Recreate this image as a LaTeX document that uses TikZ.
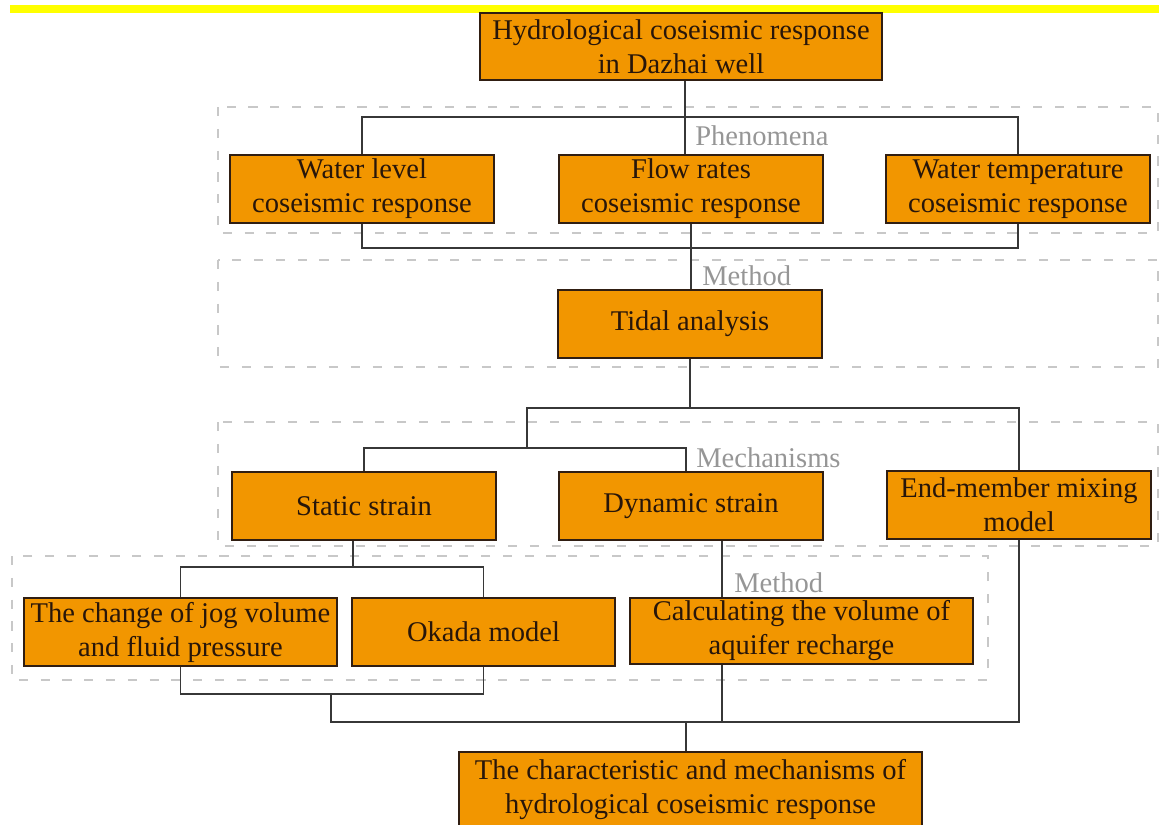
\documentclass[tikz,border=0pt]{standalone}
\usepackage{fontspec}
\setmainfont{Liberation Serif}
\usepackage{tikz}
\usetikzlibrary{positioning,calc}
\definecolor{boxclr}{RGB}{242,150,0}
\definecolor{edgeclr}{RGB}{48,30,18}
\definecolor{txtclr}{RGB}{40,22,10}
\definecolor{lineclr}{RGB}{55,55,55}
\definecolor{dashclr}{RGB}{200,200,200}
\definecolor{tagclr}{RGB}{150,150,150}
\definecolor{barclr}{RGB}{255,255,0}
\tikzset{
    blk/.style={rectangle,draw=edgeclr,line width=1.6pt,fill=boxclr,
                text=txtclr,align=center,inner sep=0pt,
                minimum width=6.6cm,minimum height=1.7cm,
                font=\fontsize{20.3}{24.2}\selectfont},
    link/.style={draw=lineclr,line width=1pt},
    grp/.style={draw=dashclr,line width=1pt,dash pattern=on 6.5pt off 9pt},
    tag/.style={text=tagclr,inner sep=0pt,anchor=base west,
                font=\fontsize{20.3}{24.2}\selectfont},
}

\begin{document}
\begin{tikzpicture}[x=0.025cm,y=-0.025cm]
\useasboundingbox (0,0) rectangle (1159,824);
\fill[barclr] (10,5) rectangle (1159,12.7);

% dashed groups
\draw[grp] (218,107) rectangle (1158,233);
\draw[grp] (218,260) rectangle (1158,367);
\draw[grp] (218,422) rectangle (1158,546);
\draw[grp] (12,556) rectangle (988,680);

% boxes
\node[blk,minimum width=10.05cm,minimum height=1.675cm] (top) at (681,46.5)
  {Hydrological coseismic response\\in Dazhai well};
\node[blk] (wl) at (362,189) {Water level\\coseismic response};
\node[blk] (fr) at (691,189) {Flow rates\\coseismic response};
\node[blk] (wt) at (1018,189) {Water temperature\\coseismic response};
\node[blk] (tid) at (690,324) {Tidal analysis};
\node[blk] (st) at (364,506) {Static strain};
\node[blk] (dyn) at (691,506) {Dynamic strain};
\node[blk] (em) at (1019,505) {End-member mixing\\model};
\node[blk,minimum width=7.825cm] (jog) at (180.5,632)
  {The change of jog volume\\and fluid pressure};
\node[blk,minimum width=6.575cm] (ok) at (483.5,632) {Okada model};
\node[blk,minimum width=8.575cm,minimum height=1.65cm] (calc) at (801.5,631)
  {Calculating the volume of\\aquifer recharge};
\node[blk,minimum width=11.575cm,minimum height=1.9cm] (fin) at (690.5,790)
  {The characteristic and mechanisms of\\hydrological coseismic response};

% group labels
\node[tag] (lphe) at (695,145) {Phenomena};
\node[tag] (lme1) at (702,285) {Method};
\node[tag] (lmec) at (696,467) {Mechanisms};
\node[tag] (lme2) at (734,592) {Method};

% junctions
\coordinate (t1) at (685,117);
\coordinate (p1) at (363,117);
\coordinate (p3) at (363,248);
\coordinate (m1) at (527,408);
\coordinate (m2) at (527,448);
\coordinate (m3) at (686,448);
\coordinate (s1) at (353,567);
\coordinate (b1) at (331,694);
\coordinate (b2) at (331,722);
\coordinate (d1) at (722,722);
\coordinate (f1) at (686,722);

% connectors
\draw[link] (top.south -| t1) -- (fr.north -| t1);
\draw[link] (wl.north) -- (wl.north |- p1) -- (wt.north |- p1) -- (wt.north);
\draw[link] (wl.south) -- (wl.south |- p3) -- (wt.south |- p3) -- (wt.south);
\draw[link] (fr.south) -- (fr.south |- tid.north);
\draw[link] (tid.south) -- (tid.south |- m1);
\draw[link] (m2) -- (m1) -- (em.north |- m1) -- (em.north);
\draw[link] (st.north) -- (st.north |- m2) -- (m3) -- (dyn.north -| m3);
\draw[link] (st.south -| s1) -- (s1);
\draw[link] (jog.north) -- (jog.north |- s1) -- (ok.north |- s1) -- (ok.north);
\draw[link] (jog.south) -- (jog.south |- b1) -- (ok.south |- b1) -- (ok.south);
\draw[link] (b1) -- (b2) -- (em.south |- b2) -- (em.south);
\draw[link] (dyn.south -| d1) -- (calc.north -| d1);
\draw[link] (calc.south -| d1) -- (d1);
\draw[link] (f1) -- (fin.north -| f1);
\end{tikzpicture}
\end{document}
